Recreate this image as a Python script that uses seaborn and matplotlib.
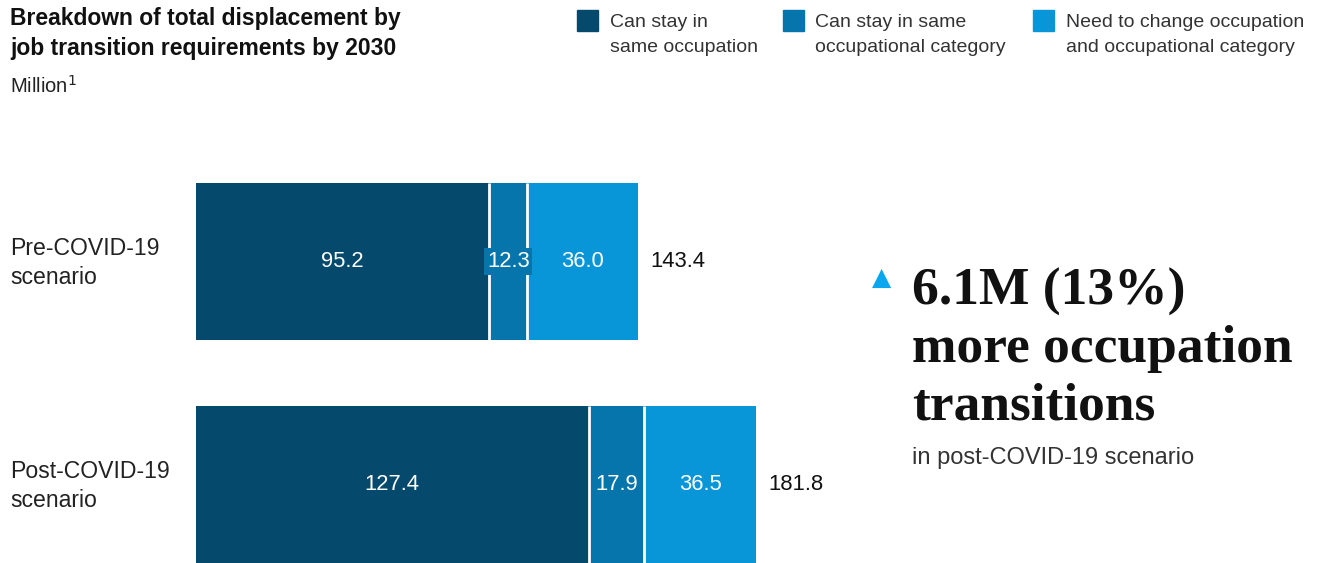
import matplotlib
matplotlib.use("Agg")
import matplotlib.pyplot as plt
import seaborn as sns
import pandas as pd
import numpy as np
from matplotlib.patches import Rectangle

# ---- data ----
categories = ["Pre-COVID-19\nscenario", "Post-COVID-19\nscenario"]
same_occupation = [95.2, 127.4]
same_category = [12.3, 17.9]
change_both = [36.0, 36.5]
totals = [143.4, 181.8]
series_names = ["Can stay in\nsame occupation",
                "Can stay in same\noccupational category",
                "Need to change occupation\nand occupational category"]

colors = ["#05496d", "#0575ac", "#0896d9"]

sns.set_theme(style="white")
plt.rcParams['font.family'] = ['Liberation Sans', 'DejaVu Sans']

W, H = 1324, 563
fig = plt.figure(figsize=(W / 100, H / 100), dpi=100)
ax = fig.add_axes([196 / W, 0.0, (860 - 196) / W, 1 - 183 / H])

cum1 = np.array(same_occupation)
cum2 = cum1 + np.array(same_category)
cum3 = cum2 + np.array(change_both)
df = pd.DataFrame({"cat": categories, "c1": cum1, "c2": cum2, "c3": cum3})

bar_w = 0.704
for col, c in zip(["c3", "c2", "c1"], colors[::-1]):
    sns.barplot(data=df, x=col, y="cat", orient="h", color=c, width=bar_w,
                linewidth=0, saturation=1, ax=ax)

# white separators between segments
for i in range(len(categories)):
    for b in (cum1[i], cum2[i]):
        ax.vlines(b, i - bar_w / 2, i + bar_w / 2, color="white", lw=2, zorder=5)

ax.set_xlim(0, (860 - 196) / (442 / 143.4))
ax.set_ylim(1 + (H - 484.5) / 223, -bar_w / 2)
ax.axis("off")

vals = [same_occupation, same_category, change_both]
starts = [np.zeros(2), cum1, cum2]
for i in range(len(categories)):
    for k in range(3):
        xc = starts[k][i] + vals[k][i] / 2
        kw = {}
        if vals[k][i] < 15:
            kw["bbox"] = dict(boxstyle="square,pad=0.12", fc=colors[k], ec="none")
        ax.text(xc, i, f"{vals[k][i]:.1f}", ha="center", va="center",
                color="white", fontsize=15.8, zorder=6, **kw)
    ax.text(cum3[i] + 3.9, i, f"{totals[i]:.1f}", ha="left", va="center",
            color="#111111", fontsize=15.8)
    fig.text(10 / W, 1 - (263 + 223 * i) / H, categories[i], ha="left",
             va="center", fontsize=16.6, color="#222222", linespacing=1.38)

# title
fig.text(10 / W, 1 - 7 / H,
         "Breakdown of total displacement by\njob transition requirements by 2030",
         ha="left", va="top", fontsize=16.5, fontweight="bold", color="#111111",
         linespacing=1.4)
fig.text(10 / W, 1 - 86 / H, "Million$^1$", ha="left", va="center",
         fontsize=14.5, color="#222222")

# legend
leg_sq = [577, 783, 1033]
leg_tx = [610, 815, 1066]
for k in range(3):
    fig.patches.append(Rectangle((leg_sq[k] / W, 1 - 31 / H), 21 / W, 21 / H,
                                 transform=fig.transFigure, color=colors[k]))
    fig.text(leg_tx[k] / W, 1 - 14 / H, series_names[k], ha="left", va="top",
             fontsize=14, color="#333333", linespacing=1.6)

# callout
fig.text(882 / W, 1 - 278 / H, "▲", ha="center", va="center",
         fontsize=18, color="#0aa6ee", family=["DejaVu Sans"])
fig.text(912 / W, 1 - 268 / H, "6.1M (13%)\nmore occupation\ntransitions",
         ha="left", va="top", fontsize=38.5, fontweight="bold",
         family=["Liberation Serif", "DejaVu Serif"], color="#111111",
         linespacing=1.25)
fig.text(912 / W, 1 - 458 / H, "in post-COVID-19 scenario", ha="left",
         va="center", fontsize=17, color="#333333")

fig.savefig("out.png", dpi=100)
